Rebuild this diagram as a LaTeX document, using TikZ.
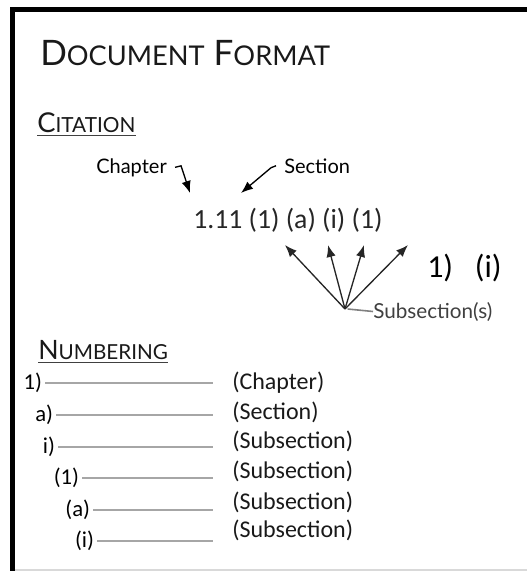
\documentclass[tikz,border=0pt]{standalone}
\usepackage{fontspec}
\setmainfont{Carlito}
\newfontfamily\gillfont{Lato}
\usetikzlibrary{arrows.meta}
\newcommand{\capsword}[2]{{\fontsize{\capbig}{\capbig}\selectfont #1}{\fontsize{\capsmall}{\capsmall}\selectfont #2}}
\tikzset{
 heading/.style={anchor=base west, inner sep=0pt, font=\gillfont, text=black!90},
 note/.style={anchor=base west, inner sep=0pt, font=\gillfont\fontsize{15}{18}\selectfont},
 cite/.style={anchor=base west, inner sep=0pt, font=\fontsize{20.8}{24}\selectfont, text=black!85},
 numlabel/.style={anchor=east, inner xsep=2pt, inner ysep=0pt, font=\fontsize{17}{20}\selectfont, text=black},
 desc/.style={anchor=west, inner sep=0pt, font=\fontsize{18}{20}\selectfont, text=black!90},
 numline/.style={gray!70, line width=1.5pt},
 pointer/.style={line width=1pt, -{Latex[length=9pt,width=7pt]}},
}

\begin{document}
\begin{tikzpicture}[x=0.75pt, y=-0.75pt]
    \useasboundingbox (0,0) rectangle (527,571);
    % frame
    \draw[line width=3.75pt] (12.5,571) -- (12.5,9.5) -- (527,9.5);
    \draw[gray!30, line width=1.5pt] (15,570) -- (527,570);

    % headings
    \node[heading] (title) at (40,65) {\def\capbig{26.3}\def\capsmall{20.4}\fontsize{26.3}{28}\selectfont\capsword{D}{OCUMENT} \capsword{F}{ORMAT}};
    \node[heading] (citation) at (37,132) {\def\capbig{20.5}\def\capsmall{15.6}\fontsize{20.5}{22}\selectfont\capsword{C}{ITATION}};
    \node[heading] (numbering) at (38,359) {\def\capbig{20}\def\capsmall{15.5}\fontsize{20}{22}\selectfont\capsword{N}{UMBERING}};
    \draw[black!75, line width=1.2pt] ([yshift=-2.2pt]citation.south west) -- ([yshift=-2.2pt]citation.south east);
    \draw[black!75, line width=1.2pt] ([yshift=-2.2pt]numbering.south west) -- ([yshift=-2.2pt]numbering.south east);

    % citation
    \node[note] (chapter) at (96,173) {Chapter};
    \node[note] (section) at (284,173) {Section};
    \node[cite] (number) at (193,228) {1.11 (1) (a) (i) (1)};
    \node[anchor=base west, inner sep=0pt, font=\fontsize{24}{28}\selectfont] (sample) at (427,277) {1)\ \ \ (i)};
    \coordinate (chaptip) at (190,193);
    \coordinate (secttip) at (241,193);
    \draw[pointer] ([xshift=6pt]chapter.east) -- ++(6,-1.5) -- (chaptip);
    \draw[pointer] ([xshift=-6pt]section.west) -- ++(-5,2) -- (secttip);

    \node[note, text=black!75, font=\gillfont\fontsize{15.5}{18}\selectfont] (subsec) at (373,318) {Subsection(s)};
    \coordinate (fan) at (345,309);
    \foreach \x[count=\i] in {285, 328, 364, 408} {
        \coordinate (tip\i) at (\x,245);
        \draw[pointer, black!85] (fan) -- (tip\i);
    }
    \draw[gray, line width=1.2pt] ([xshift=2pt]fan) -- (subsec.west);

    % numbering
    \foreach \lab/\xs/\yl/\txt/\yt[count=\i] in {1)/45/383/(Chapter)/382.5, a)/56/415/(Section)/412.7, i)/58/447/(Subsection)/441.5, (1)/82/478/(Subsection)/471.5, (a)/93/510/(Subsection)/502, (i)/97/541/(Subsection)/530} {
        \node[numlabel] (num\i) at (\xs,\yl) {\lab};
        \node[desc] (desc\i) at (232,\yt) {\txt};
        \coordinate (end\i) at (213,\yl);
        \draw[numline] (num\i.east) -- (end\i);
    }
\end{tikzpicture}
\end{document}
